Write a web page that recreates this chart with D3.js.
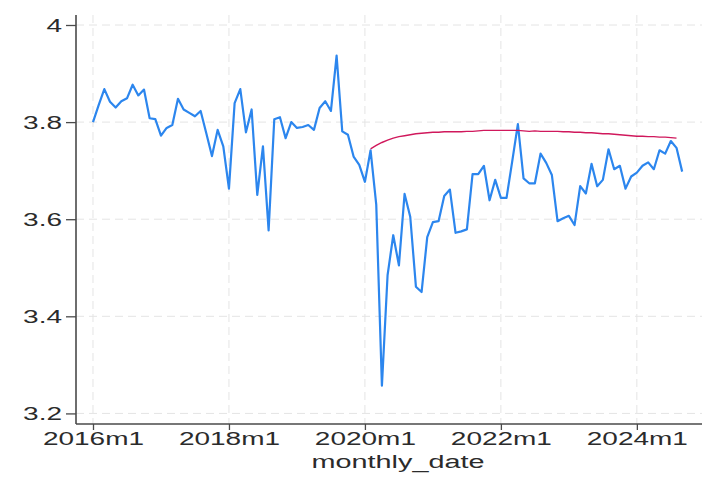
<!DOCTYPE html>
<html>
<head>
<meta charset="utf-8">
<script src="https://cdn.jsdelivr.net/npm/d3@7"></script>
<style>
  html, body { margin: 0; padding: 0; background: #ffffff; }
  svg { display: block; }
  text { font-family: "Liberation Sans", Arial, Helvetica, sans-serif; fill: #2b2b2b; }
</style>
</head>
<body>
<svg id="chart" width="702" height="477"></svg>
<script>
// Monthly observed series, starting 2016m1 (one value per month)
const observedStart = "2016m1";
const observedValues = [
  3.800, 3.835, 3.868, 3.842, 3.830, 3.843, 3.849, 3.877, 3.855, 3.867, 3.808, 3.806,
  3.772, 3.788, 3.794, 3.848, 3.826, 3.819, 3.812, 3.823, 3.777, 3.730, 3.784, 3.750,
  3.663, 3.839, 3.868, 3.779, 3.826, 3.650, 3.750, 3.577, 3.806, 3.810, 3.767, 3.800,
  3.788, 3.790, 3.794, 3.784, 3.829, 3.843, 3.823, 3.937, 3.781, 3.774, 3.729, 3.712,
  3.677, 3.742, 3.630, 3.257, 3.485, 3.567, 3.505, 3.652, 3.605, 3.461, 3.450, 3.563,
  3.594, 3.596, 3.648, 3.661, 3.572, 3.575, 3.579, 3.693, 3.693, 3.710, 3.639, 3.681,
  3.644, 3.644, 3.719, 3.796, 3.684, 3.674, 3.674, 3.735, 3.716, 3.691, 3.596, 3.602,
  3.607, 3.588, 3.668, 3.653, 3.714, 3.668, 3.681, 3.744, 3.703, 3.710, 3.663, 3.688,
  3.696, 3.710, 3.717, 3.703, 3.742, 3.735, 3.761, 3.747, 3.698
];

// Counterfactual trend, starting 2020m2
const trendStart = "2020m2";
const trendValues = [
  3.745, 3.752, 3.758, 3.763, 3.767, 3.770, 3.772, 3.774, 3.776, 3.777, 3.778,
  3.779, 3.779, 3.780, 3.780, 3.780, 3.780, 3.781, 3.781, 3.782, 3.783, 3.783,
  3.783, 3.783, 3.783, 3.783, 3.783, 3.782, 3.781, 3.782, 3.781, 3.781, 3.781,
  3.781, 3.780, 3.780, 3.779, 3.779, 3.778, 3.778, 3.777, 3.776, 3.776, 3.775,
  3.774, 3.773, 3.772, 3.771, 3.771, 3.770, 3.770, 3.769, 3.769, 3.768, 3.767
];

// Axis ticks
const xTickLabels = ["2016m1", "2018m1", "2020m1", "2022m1", "2024m1"];
const yTickValues = [3.2, 3.4, 3.6, 3.8, 4];
const xAxisTitle = "monthly_date";

// Stata-style monthly index: months since 2016m1
const base = { year: 2016, month: 1 };
function monthIndex(label) {
  const m = /^(\d{4})m(\d{1,2})$/.exec(label);
  return (+m[1] - base.year) * 12 + (+m[2] - base.month);
}
function monthLabel(idx) {
  const y = base.year + Math.floor(idx / 12);
  const mo = ((idx % 12) + 12) % 12 + 1;
  return y + "m" + mo;
}

const observed = observedValues.map((v, i) => ({ t: monthIndex(observedStart) + i, v }));
const trend = trendValues.map((v, i) => ({ t: monthIndex(trendStart) + i, v }));

const svg = d3.select("#chart");
const W = 702, H = 477;
const plot = { left: 76, right: 702, top: 15, bottom: 424 };

const x = d3.scaleLinear().domain([-3, 107.5]).range([plot.left, plot.right]);
const y = d3.scaleLinear().domain([3.1782, 4.0206]).range([plot.bottom, plot.top]);

const xTicks = xTickLabels.map(monthIndex);
const textStretch = 1.6;

// Grid
const grid = svg.append("g").attr("class", "grid")
  .attr("stroke", "#e4e4e4").attr("stroke-width", 1).attr("stroke-dasharray", "8,5");
grid.selectAll("line.h").data(yTickValues).join("line").attr("class", "h")
  .attr("x1", plot.left).attr("x2", plot.right)
  .attr("y1", d => y(d)).attr("y2", d => y(d));
grid.selectAll("line.v").data(xTicks).join("line").attr("class", "v")
  .attr("x1", d => x(d)).attr("x2", d => x(d))
  .attr("y1", plot.top).attr("y2", plot.bottom);

// Series
const line = d3.line().x(d => x(d.t)).y(d => y(d.v));
svg.append("path").datum(observed)
  .attr("fill", "none").attr("stroke", "#2c86ee").attr("stroke-width", 2.2)
  .attr("stroke-linejoin", "round").attr("d", line);
svg.append("path").datum(trend)
  .attr("fill", "none").attr("stroke", "#d0185c").attr("stroke-width", 1.4)
  .attr("stroke-linejoin", "round").attr("d", line);

// Axes
const axisColor = "#4a4a4a";
const yAxis = svg.append("g").attr("transform", `translate(${plot.left},0)`)
  .call(d3.axisLeft(y).tickValues(yTickValues).tickSize(10).tickFormat(d3.format("~g")));
const xAxis = svg.append("g").attr("transform", `translate(0,${plot.bottom})`)
  .call(d3.axisBottom(x).tickValues(xTicks).tickSize(6).tickFormat(monthLabel));

[yAxis, xAxis].forEach(g => {
  g.select(".domain").attr("stroke", axisColor).attr("stroke-width", 1.6);
  g.selectAll(".tick line").attr("stroke", axisColor).attr("stroke-width", 1.3);
  g.selectAll(".tick text").remove();
});
yAxis.select(".domain").attr("d", `M0,${plot.top}V${plot.bottom}`);
xAxis.select(".domain").attr("d", `M${plot.left},0H${plot.right}`);

// Tick labels (horizontally stretched type)
yAxis.selectAll(".tick").append("text")
  .attr("transform", `translate(-14,6) scale(${textStretch},1)`)
  .attr("text-anchor", "end").attr("font-size", 17.5)
  .text(d => d3.format("~g")(d));
xAxis.selectAll(".tick").append("text")
  .attr("transform", `translate(0,21) scale(${textStretch},1)`)
  .attr("text-anchor", "middle").attr("font-size", 17.5)
  .text(d => monthLabel(d));

// Axis title
svg.append("text")
  .attr("transform", `translate(398,468) scale(${textStretch},1)`)
  .attr("text-anchor", "middle").attr("font-size", 18)
  .text(xAxisTitle);
</script>
</body>
</html>
